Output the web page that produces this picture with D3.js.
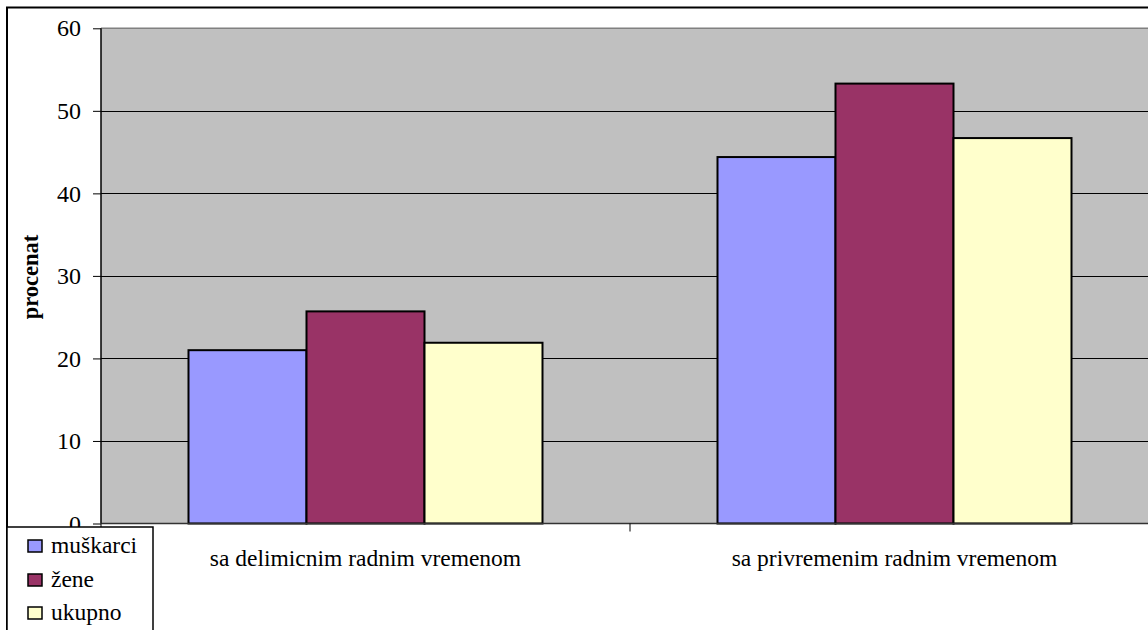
<!DOCTYPE html>
<html><head><meta charset="utf-8">
<script src="https://cdn.jsdelivr.net/npm/d3@7"></script>
<style>html,body{margin:0;padding:0;background:#fff;overflow:hidden}svg{display:block}</style>
</head><body><svg id="c" width="1148" height="630"></svg>
<script>
const categories = ["sa delimicnim radnim vremenom", "sa privremenim radnim vremenom"];
const series = ["muškarci", "žene", "ukupno"];
const muskarci = [21.0, 44.4];
const zene = [25.7, 53.3];
const ukupno = [21.9, 46.7];
const yTicks = [0, 10, 20, 30, 40, 50, 60];
const colors = ["#9999FF", "#993366", "#FFFFCC"];
const values = [muskarci, zene, ukupno];

const svg = d3.select("#c");
const FONT = "'Liberation Serif','Times New Roman',serif";
const L = 101, R = 1159, T = 28.3, B = 523.5;

const x0 = d3.scaleBand().domain(categories).range([L, R]).padding(0);
const x1 = d3.scaleBand().domain(series).range([0, x0.bandwidth()]).paddingInner(0).paddingOuter(0.7415);
const y = d3.scaleLinear().domain([0, 60]).range([B, T]);

// outer border
svg.append("rect").attr("x", 7).attr("y", 7.5).attr("width", 1200).attr("height", 700)
  .attr("fill", "none").attr("stroke", "#000").attr("stroke-width", 2);

// plot area
svg.append("rect").attr("x", L).attr("y", T).attr("width", R - L).attr("height", B - T)
  .attr("fill", "#C0C0C0");
svg.append("line").attr("x1", L).attr("x2", R).attr("y1", T).attr("y2", T)
  .attr("stroke", "#808080").attr("stroke-width", 1.5);

// gridlines
svg.append("g").selectAll("line").data(yTicks.filter(d => d > 0 && d < 60)).join("line")
  .attr("x1", L).attr("x2", R).attr("y1", d => Math.round(y(d)) + 0.5).attr("y2", d => Math.round(y(d)) + 0.5)
  .attr("stroke", "#000").attr("stroke-width", 1);

// bars
const g = svg.append("g");
categories.forEach((c, ci) => {
  series.forEach((s, si) => {
    g.append("rect")
      .attr("x", x0(c) + x1(s))
      .attr("y", y(values[si][ci]))
      .attr("width", x1.bandwidth())
      .attr("height", B - y(values[si][ci]))
      .attr("fill", colors[si]).attr("stroke", "#000").attr("stroke-width", 2);
  });
});

// y axis
const yAxis = d3.axisLeft(y).tickValues(yTicks).tickSize(8).tickPadding(12);
const ya = svg.append("g").attr("transform", `translate(${L},0)`).call(yAxis);
ya.attr("font-family", null).attr("font-size", null);
ya.select(".domain").attr("stroke", "#000").attr("stroke-width", 1.5).attr("d", `M0,${T}V${B}`);
ya.selectAll(".tick line").attr("stroke", "#000");
ya.selectAll(".tick text").style("font-family", FONT).style("font-size", "24px").attr("fill", "#000");

// x axis
const xa = svg.append("g").attr("transform", `translate(0,${B})`);
xa.append("line").attr("x1", L).attr("x2", R).attr("stroke", "#333").attr("stroke-width", 1.5);
xa.selectAll("line.t").data(categories).join("line").attr("class", "t")
  .attr("x1", d => x0(d)).attr("x2", d => x0(d)).attr("y1", 0).attr("y2", 8).attr("stroke", "#000");
xa.selectAll("text").data(categories).join("text")
  .attr("x", d => x0(d) + x0.bandwidth() / 2).attr("y", 42)
  .attr("text-anchor", "middle").style("font-family", FONT).style("font-size", "23.5px").attr("fill", "#000")
  .text(d => d);

// y title
svg.append("text").attr("transform", "translate(38,277) rotate(-90)")
  .attr("text-anchor", "middle").style("font-family", FONT).style("font-size", "22.5px")
  .attr("font-weight", "bold").text("procenat");

// legend
const lg = svg.append("g");
lg.append("rect").attr("x", 7).attr("y", 527).attr("width", 146).attr("height", 120)
  .attr("fill", "#fff").attr("stroke", "#000").attr("stroke-width", 1.5);
const rowsY = [546, 580, 613];
series.forEach((s, i) => {
  lg.append("rect").attr("x", 28).attr("y", rowsY[i] - 6).attr("width", 14).attr("height", 12)
    .attr("fill", colors[i]).attr("stroke", "#000").attr("stroke-width", 1.5);
  lg.append("text").attr("x", 51).attr("y", rowsY[i] + 7)
    .style("font-family", FONT).style("font-size", "23.5px").attr("fill", "#000").text(s);
});
</script>
</body></html>
